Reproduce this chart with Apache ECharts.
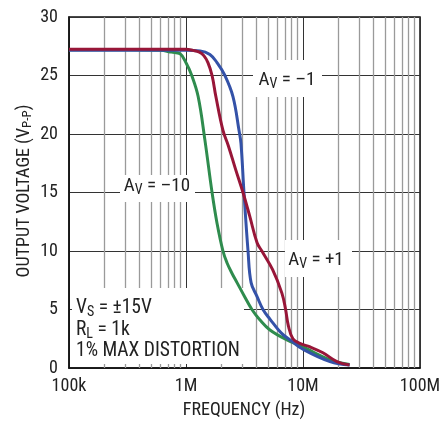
<!DOCTYPE html>
<html>
<head>
<meta charset="utf-8">
<script src="https://cdn.jsdelivr.net/npm/echarts@6/dist/echarts.min.js"></script>
<style>html,body{margin:0;padding:0;background:#fff}#c{width:445px;height:421px}</style>
</head>
<body>
<div id="c"></div>
<script>
// ---- data (frequency in Hz, output voltage in Vp-p) ----
const avMinus10Freq = [1e5, 3e5, 6e5, 7.5e5, 8.9e5, 1.01e6, 1.12e6, 1.27e6, 1.45e6, 1.67e6, 1.84e6, 2.07e6, 2.24e6, 2.47e6, 2.73e6, 3.13e6, 3.66e6, 4.29e6, 5.22e6, 7.3e6, 1e7, 1.7e7, 2.5e7];
const avMinus10Volt = [27.2, 27.2, 27.15, 27.0, 26.85, 26.0, 25.0, 23.2, 19.5, 15.0, 12.4, 10.0, 9.0, 8.1, 7.3, 6.2, 5.0, 4.1, 3.25, 2.4, 1.8, 0.7, 0.3];

const avMinus1Freq = [1e5, 1e6, 1.32e6, 1.6e6, 1.84e6, 2.15e6, 2.52e6, 2.84e6, 2.95e6, 3.13e6, 3.39e6, 3.6e6, 4.05e6, 4.55e6, 5.2e6, 6.5e6, 8e6, 1e7, 1.7e7, 2.5e7];
const avMinus1Volt = [27.15, 27.15, 27.1, 26.8, 26.1, 25.0, 23.2, 20.3, 19.2, 15.0, 10.0, 7.3, 6.1, 5.0, 4.2, 3.0, 2.3, 1.6, 0.55, 0.25];

const avPlus1Freq = [1e5, 1e6, 1.15e6, 1.3e6, 1.42e6, 1.54e6, 1.67e6, 1.8e6, 2.07e6, 2.3e6, 2.65e6, 3.07e6, 3.5e6, 4.05e6, 4.45e6, 5.5e6, 6.6e6, 7.1e6, 7.5e6, 8.2e6, 9.4e6, 1.15e7, 1.48e7, 1.95e7, 2.5e7];
const avPlus1Volt = [27.25, 27.25, 27.15, 27.0, 26.7, 26.1, 25.0, 23.2, 20.3, 19.0, 17.0, 15.0, 13.0, 10.7, 10.0, 8.4, 6.4, 5.0, 3.6, 2.5, 2.1, 1.8, 1.3, 0.55, 0.25];

const xTickLabels = {1e5: '100k', 1e6: '1M', 1e7: '10M', 1e8: '100M'};
const minorGridFreqs = [2e5,3e5,4e5,5e5,6e5,7e5,8e5,9e5, 2e6,3e6,4e6,5e6,6e6,7e6,8e6,9e6, 2e7,3e7,4e7,5e7,6e7,7e7,8e7,9e7];

const FONT = "'Roboto Condensed', 'DejaVu Sans Condensed', sans-serif";
const pair = (f, v) => f.map((x, i) => [x, v[i]]);

const chart = echarts.init(document.getElementById('c'), null, {renderer: 'canvas'});

function richFor(size) {
  return {
    n: {fontSize: size, fontFamily: FONT, color: '#222', lineHeight: size + 4},
    s: {fontSize: Math.round(size * 0.72), fontFamily: FONT, color: '#222', lineHeight: size + 4, padding: [Math.round(size * 0.45), 0, 0, 0]}
  };
}

function labelText(x, y, text, size, align) {
  return {type: 'text', x: x, y: y, z: 3,
    style: {text: text, rich: richFor(size), align: align || 'center', verticalAlign: 'middle', font: size + 'px ' + FONT, fill: '#222'}};
}
function whiteBox(x1, y1, x2, y2) {
  return {type: 'rect', z: 2, shape: {x: x1, y: y1, width: x2 - x1, height: y2 - y1}, style: {fill: '#fff'}, silent: true};
}

const lineSeries = (name, data, color) => ({
  name, type: 'line', data, showSymbol: false, smooth: 0.4,
  lineStyle: {color, width: 3}, z: 5, silent: true
});

chart.setOption({
  animation: false,
  backgroundColor: '#fff',
  grid: {left: 69, right: 25, top: 17, bottom: 53, show: true, borderColor: '#111', borderWidth: 1.5, backgroundColor: 'transparent'},
  xAxis: {
    type: 'log', logBase: 10, min: 1e5, max: 1e8,
    axisLine: {show: true, lineStyle: {color: '#111', width: 1.5}},
    axisTick: {show: false},
    axisLabel: {margin: 9, fontSize: 18, fontFamily: FONT, color: '#222', formatter: v => xTickLabels[Math.round(v)] || ''},
    splitLine: {show: true, lineStyle: {color: '#333', width: 1}}
  },
  yAxis: {
    type: 'value', min: 0, max: 30, interval: 5,
    axisLine: {show: true, lineStyle: {color: '#111', width: 1.5}},
    axisTick: {show: false},
    axisLabel: {margin: 11, fontSize: 18, fontFamily: FONT, color: '#222'},
    splitLine: {show: true, lineStyle: {color: '#333', width: 1}}
  },
  series: [
    {type: 'line', data: [], z: 1, silent: true,
      markLine: {z: 1, silent: true, symbol: ['none', 'none'], label: {show: false},
        lineStyle: {color: '#9a9a9a', width: 1.3, type: 'solid'},
        emphasis: {disabled: true},
        data: minorGridFreqs.map(f => ({xAxis: f}))}},
    lineSeries('AV = -10', pair(avMinus10Freq, avMinus10Volt), '#2f8c4e'),
    lineSeries('AV = -1', pair(avMinus1Freq, avMinus1Volt), '#3452a8'),
    lineSeries('AV = +1', pair(avPlus1Freq, avPlus1Volt), '#981638')
  ],
  graphic: [
    whiteBox(253, 60, 322, 97),
    whiteBox(120, 175, 195, 202),
    whiteBox(285, 240, 352, 277),
    whiteBox(72, 288, 244, 364),
    labelText(287, 80, '{n|A}{s|V}{n| = –1}', 19),
    labelText(157, 186, '{n|A}{s|V}{n| = –10}', 19),
    labelText(316, 260, '{n|A}{s|V}{n| = +1}', 19),
    labelText(76, 308, '{n|V}{s|S}{n| = ±15V}', 19.5, 'left'),
    labelText(76, 330, '{n|R}{s|L}{n| = 1k}', 19.5, 'left'),
    labelText(76, 351, '{n|1% MAX DISTORTION}', 19.5, 'left'),
    {type: 'text', x: 244, y: 410, z: 3, style: {text: 'FREQUENCY (Hz)', font: '18px ' + FONT, fill: '#222', align: 'center', verticalAlign: 'middle'}},
    {type: 'text', x: 24, y: 191, z: 3, rotation: Math.PI / 2,
      style: {text: '{n|OUTPUT VOLTAGE (V}{s|P-P}{n|)}', rich: richFor(18), font: '18px ' + FONT, fill: '#222', align: 'center', verticalAlign: 'middle'}}
  ]
});
</script>
</body>
</html>
